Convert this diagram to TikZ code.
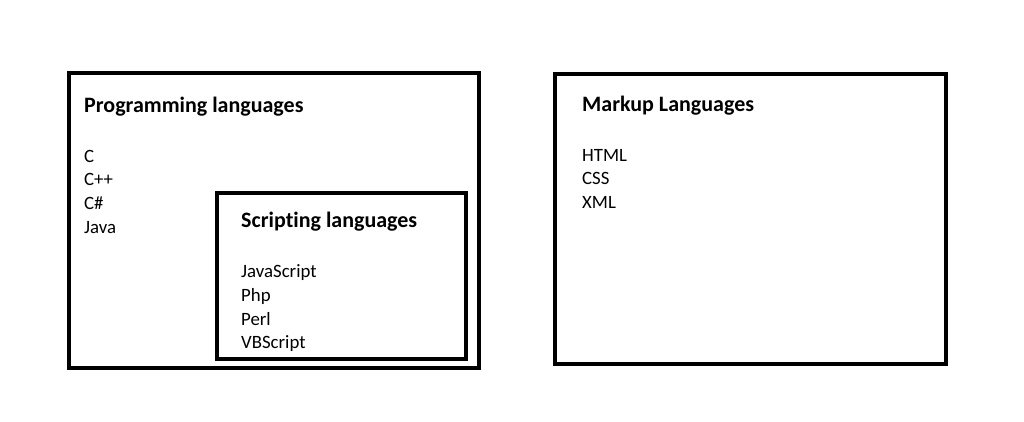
\documentclass[tikz,border=0pt]{standalone}
\usepackage{fontspec}
\setmainfont[Ligatures={NoCommon}]{Carlito}
\tikzset{
  frame/.style={draw, line width=4pt, inner sep=0pt, rectangle},
  heading/.style={anchor=base west, inner sep=0pt, font=\fontsize{22}{24}\selectfont\bfseries},
  item/.style={anchor=base west, inner sep=0pt, font=\fontsize{18.8}{22}\selectfont}
}
\begin{document}
\begin{tikzpicture}[x=1pt,y=-1pt]
\useasboundingbox (0,0) rectangle (1024,421);
% outer boxes
\node[frame, minimum width=409.5pt, minimum height=295pt] (prog) at (273.75,220.5){};
\node[frame, minimum width=249pt, minimum height=165.5pt] (script) at (341,275.75){};
\node[frame, minimum width=391pt, minimum height=290pt] (markup) at (555+195.5,74+145){};
% programming languages
\node[heading] (proghead) at (84,112){Programming languages};
\node[item] (c) at (84,162){C};
\node[item] (cpp) at (84,185.5){C++};
\node[item] (cs) at (84,209){C\#};
\node[item] (java) at (84,233){Java};
% scripting languages
\node[heading] (scripthead) at (241,227){Scripting languages};
\node[item] (js) at (241,277){JavaScript};
\node[item] (php) at (241,301){Php};
\node[item] (perl) at (241,325){Perl};
\node[item] (vbs) at (241,348.5){VBScript};
% markup languages
\node[heading] (markuphead) at (582,111){Markup Languages};
\node[item] (html) at (582,161){HTML};
\node[item] (css) at (582,184.5){CSS};
\node[item] (xml) at (582,208){XML};
\end{tikzpicture}
\end{document}
